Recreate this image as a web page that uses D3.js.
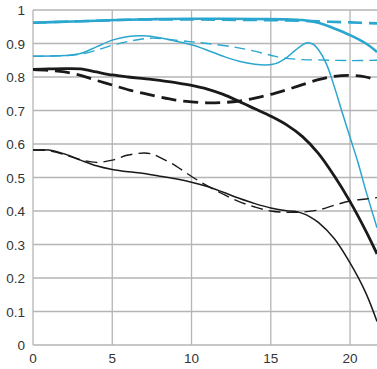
<!DOCTYPE html>
<html><head><meta charset="utf-8">
<script src="https://cdn.jsdelivr.net/npm/d3@7"></script>
<style>body{margin:0;background:#fff}svg{display:block}</style>
</head><body>
<script>
const xTicks = [0, 5, 10, 15, 20];
const yTicks = [0, 0.1, 0.2, 0.3, 0.4, 0.5, 0.6, 0.7, 0.8, 0.9, 1];
const yTickLabels = ["0", "0.1", "0.2", "0.3", "0.4", "0.5", "0.6", "0.7", "0.8", "0.9", "1"];

const cyanThickSolid = [[0,0.962],[2,0.965],[4,0.968],[6,0.971],[8,0.973],[10,0.974],[12,0.974],[14,0.973],[16,0.972],[17,0.97],[18,0.962],[19,0.945],[20,0.925],[21,0.9],[21.7,0.875]];
const cyanThickDash = [[0,0.962],[2,0.965],[4,0.968],[6,0.971],[8,0.972],[10,0.972],[12,0.971],[14,0.97],[16,0.969],[18,0.966],[20,0.963],[21.7,0.96]];
const cyanThinSolid = [[0,0.862],[2,0.864],[3,0.87],[4,0.89],[5,0.91],[6,0.921],[7,0.923],[8,0.917],[9,0.907],[10,0.896],[11,0.88],[12,0.862],[13,0.847],[14,0.838],[14.7,0.836],[15.3,0.84],[16,0.858],[16.5,0.878],[17,0.896],[17.3,0.902],[17.7,0.897],[18,0.882],[18.5,0.84],[19,0.772],[19.5,0.695],[20,0.62],[20.5,0.545],[21,0.46],[21.7,0.35]];
const cyanThinDash = [[0,0.862],[2,0.864],[3,0.868],[4,0.88],[5,0.895],[6,0.906],[7,0.914],[7.6,0.916],[8.6,0.912],[10,0.905],[11,0.9],[12.6,0.89],[13.7,0.88],[15,0.865],[15.6,0.858],[17,0.852],[18,0.851],[20,0.849],[21.7,0.85]];
const blackThickSolid = [[0,0.823],[1,0.824],[2,0.825],[3,0.824],[4,0.815],[5,0.806],[6,0.8],[7,0.795],[8,0.79],[9,0.783],[10,0.775],[11,0.764],[12,0.748],[13,0.727],[14,0.705],[15,0.683],[16,0.657],[17,0.622],[18,0.572],[19,0.505],[20,0.428],[21,0.34],[21.7,0.272]];
const blackThickDash = [[0,0.822],[1,0.82],[2,0.815],[3,0.805],[4,0.79],[5,0.776],[6,0.762],[7,0.751],[8,0.74],[9,0.731],[10,0.726],[11,0.723],[12,0.724],[13,0.728],[14,0.737],[15,0.748],[16,0.762],[17,0.777],[18,0.792],[19,0.802],[20,0.805],[21,0.8],[21.7,0.79]];
const blackThinSolid = [[0,0.582],[1,0.582],[2,0.57],[3,0.552],[4,0.535],[5,0.524],[6,0.517],[7,0.512],[8,0.504],[9,0.496],[10,0.486],[11,0.473],[12,0.456],[13,0.438],[14,0.422],[15,0.409],[16,0.401],[16.5,0.399],[17,0.393],[17.5,0.382],[18,0.366],[19,0.318],[20,0.245],[21,0.155],[21.7,0.07]];
const blackThinDash = [[0,0.582],[1,0.58],[2,0.568],[3,0.553],[4,0.545],[5,0.552],[6,0.567],[7,0.573],[7.5,0.57],[8,0.56],[9,0.535],[10,0.503],[11,0.475],[12,0.45],[13,0.428],[14,0.412],[15,0.4],[16,0.396],[17,0.397],[18,0.403],[19,0.417],[20,0.43],[21,0.436],[21.7,0.44]];

const W = 377, H = 369;
const x = d3.scaleLinear().domain([0, 21.7]).range([33, 377]);
const y = d3.scaleLinear().domain([0, 1]).range([345, 10]);

const svg = d3.select("body").append("svg").attr("width", W).attr("height", H);

svg.append("defs").append("clipPath").attr("id", "clip")
  .append("rect").attr("x", 33).attr("y", 0).attr("width", 344).attr("height", 346);

const grid = svg.append("g");
grid.selectAll("line.h").data(yTicks).join("line")
  .attr("x1", x(0)).attr("x2", W).attr("y1", d => y(d)).attr("y2", d => y(d))
  .attr("stroke", "#b5b5b5").attr("stroke-width", 1.3);
grid.selectAll("line.v").data(xTicks).join("line")
  .attr("y1", y(0)).attr("y2", y(1)).attr("x1", d => x(d)).attr("x2", d => x(d))
  .attr("stroke", "#b5b5b5").attr("stroke-width", 1.3);

svg.append("g").selectAll("text").data(yTicks).join("text")
  .attr("x", 25).attr("y", d => y(d) + 5)
  .attr("text-anchor", "end")
  .attr("font-family", "Liberation Sans, Arial, sans-serif").attr("font-size", 13.5).attr("fill", "#333")
  .text((d, i) => yTickLabels[i]);

svg.append("g").selectAll("text").data(xTicks).join("text")
  .attr("x", d => x(d)).attr("y", 363)
  .attr("text-anchor", "middle")
  .attr("font-family", "Liberation Sans, Arial, sans-serif").attr("font-size", 13.5).attr("fill", "#333")
  .text(d => d);

const line = d3.line().x(d => x(d[0])).y(d => y(d[1])).curve(d3.curveCatmullRom.alpha(0.5));
const series = [
  {d: cyanThinDash, c: "#2aa6cf", w: 1.4, dash: "11,6"},
  {d: cyanThinSolid, c: "#2aa6cf", w: 1.5, dash: null},
  {d: cyanThickDash, c: "#2aa6cf", w: 2.6, dash: "14,7"},
  {d: cyanThickSolid, c: "#2aa6cf", w: 2.6, dash: null},
  {d: blackThinDash, c: "#1a1a1a", w: 1.4, dash: "12,6"},
  {d: blackThinSolid, c: "#1a1a1a", w: 1.5, dash: null},
  {d: blackThickDash, c: "#1a1a1a", w: 2.8, dash: "15,7"},
  {d: blackThickSolid, c: "#1a1a1a", w: 2.8, dash: null}
];
const g = svg.append("g").attr("clip-path", "url(#clip)");
series.forEach(s => {
  g.append("path").datum(s.d).attr("d", line)
    .attr("fill", "none").attr("stroke", s.c).attr("stroke-width", s.w)
    .attr("stroke-dasharray", s.dash);
});
</script>
</body></html>
